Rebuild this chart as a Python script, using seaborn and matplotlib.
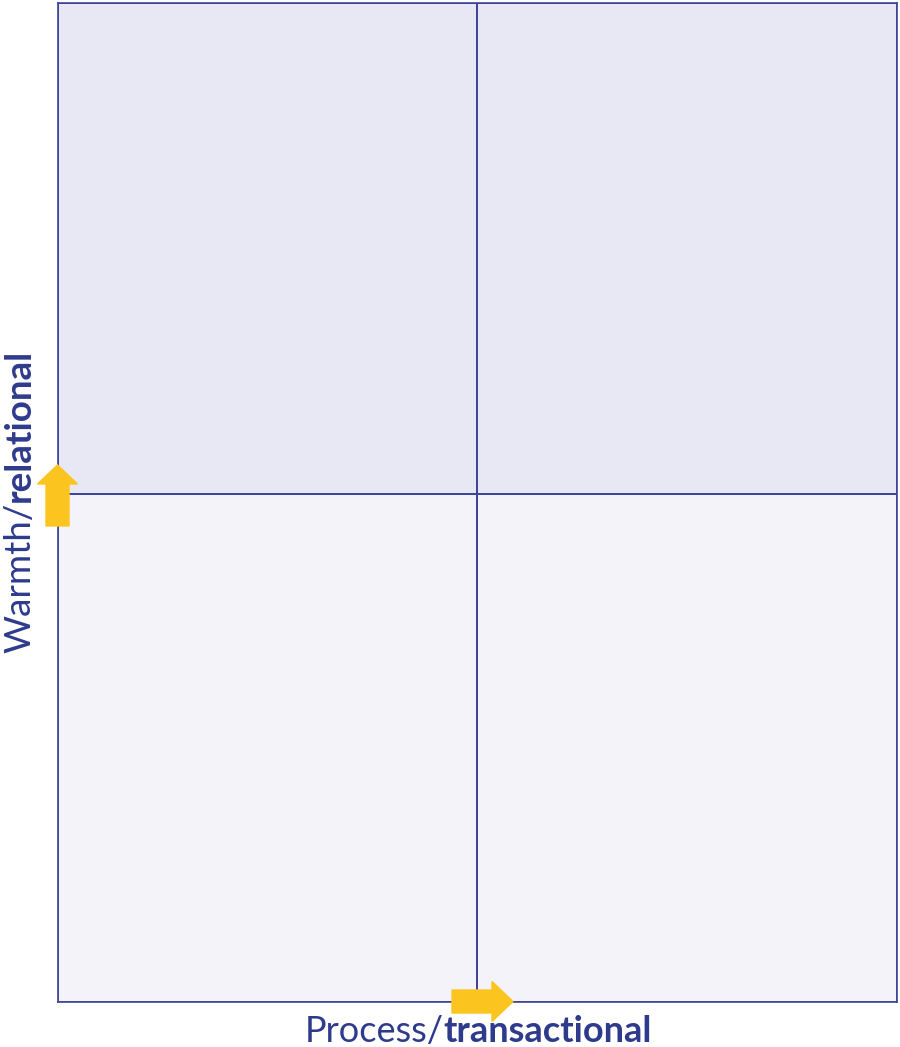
import numpy as np
import matplotlib
matplotlib.use("Agg")
import matplotlib.pyplot as plt
from matplotlib.colors import ListedColormap
from matplotlib.patches import FancyArrow
import seaborn as sns

# quadrant grid: x = process/transactional, y = warmth/relational
x_edges = [0, 1, 2]
y_edges = [0, 1.017, 2]
shade = np.array([[0, 0],    # bottom row: low warmth
                  [1, 1]])   # top row: high warmth
x_label = ["Process/", "transactional"]
y_label = ["Warmth/", "relational"]

navy = "#2E3A8C"
line_c = "#3F4699"
yellow = "#FCC41E"
cmap = ListedColormap(["#F3F3F9", "#E8E8F4"])

sns.set_style("white")
plt.rcParams['font.family'] = ['Lato', 'DejaVu Sans']

fig = plt.figure(figsize=(9, 10.47), dpi=100)
ax = fig.add_axes([58 / 900, 45 / 1047, 839 / 900, 999 / 1047])
ax.pcolormesh(x_edges, y_edges, shade, cmap=cmap, edgecolors=line_c, linewidth=1.2)
ax.set_xlim(x_edges[0], x_edges[-1])
ax.set_ylim(y_edges[0], y_edges[-1])
ax.set_xticks([])
ax.set_yticks([])
for s in ax.spines.values():
    s.set_color(line_c)
    s.set_linewidth(1.2)

# arrows (figure inches)
t = fig.dpi_scale_trans
fig.patches.append(FancyArrow(0.575, 5.21, 0, 0.61, width=0.23, head_width=0.40,
                              head_length=0.19, length_includes_head=True,
                              color=yellow, transform=t, zorder=5))
fig.patches.append(FancyArrow(4.52, 0.455, 0.61, 0, width=0.23, head_width=0.40,
                              head_length=0.21, length_includes_head=True,
                              color=yellow, transform=t, zorder=5))

# axis labels with bold second word
fig.canvas.draw()
r = fig.canvas.get_renderer()

a = fig.text(0, 0.05 / 10.47, x_label[0], fontsize=26, color=navy)
b = fig.text(0, 0.05 / 10.47, x_label[1], fontsize=26, color=navy, fontweight="bold")
wa = a.get_window_extent(r).width
wb = b.get_window_extent(r).width
x0 = 478 - (wa + wb) / 2
a.set_x(x0 / 900)
b.set_x((x0 + wa) / 900)

c = fig.text(0.03 / 9, 0, y_label[0], fontsize=26.5, color=navy, rotation=90)
d = fig.text(0.03 / 9, 0, y_label[1], fontsize=26.5, color=navy, rotation=90, fontweight="bold")
hc = c.get_window_extent(r).height
hd = d.get_window_extent(r).height
y0 = (1047 - 495) - (hc + hd) / 2
c.set_y(y0 / 1047)
d.set_y((y0 + hc) / 1047)

fig.savefig("out.png", dpi=100)
